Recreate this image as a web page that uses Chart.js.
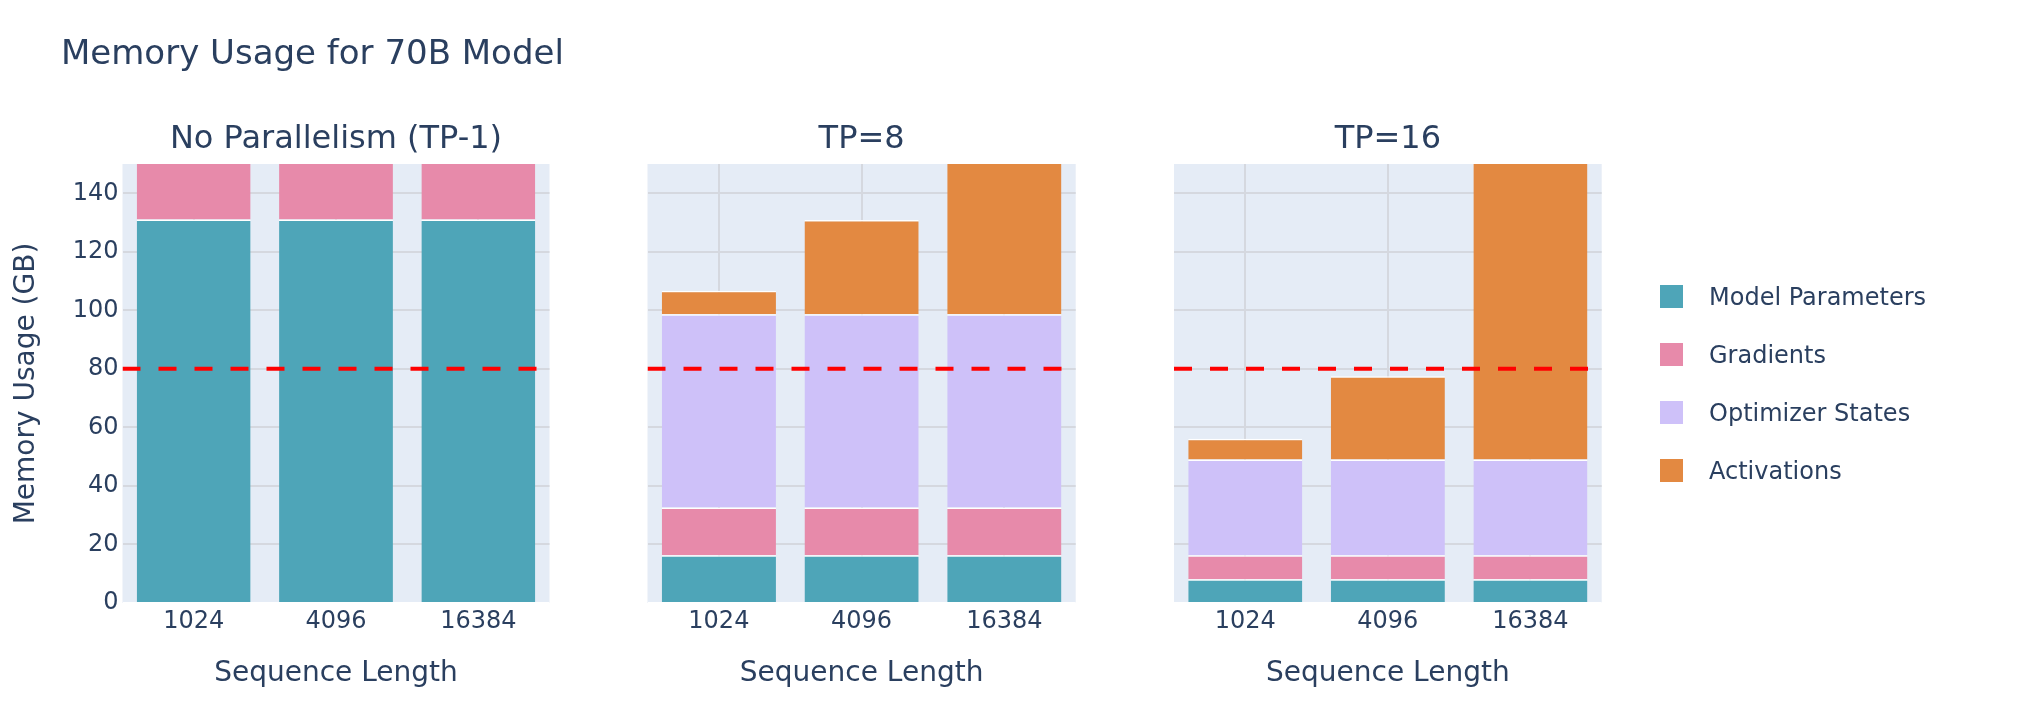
<!DOCTYPE html>
<html>
<head>
<meta charset="utf-8">
<script src="https://cdn.jsdelivr.net/npm/chart.js@4.4.1/dist/chart.umd.min.js"></script>
<style>
html,body{margin:0;padding:0;background:#fff;width:2030px;height:722px;overflow:hidden;}
#wrap{position:relative;width:2030px;height:722px;}
canvas{position:absolute;left:0;top:0;}
#mainTitle{position:absolute;left:61px;top:35px;font:34px/34px 'DejaVu Sans',Verdana,sans-serif;color:#2a3f5f;white-space:nowrap;}
#legend{position:absolute;left:1660px;top:284.7px;font:24px/24px 'DejaVu Sans',Verdana,sans-serif;color:#2a3f5f;}
.item{display:flex;align-items:center;height:24px;margin-bottom:34px;white-space:nowrap;}
.sw{width:23px;height:23px;margin-right:26px;flex:none;}
</style>
</head>
<body>
<div id="wrap">
  <canvas id="c1" width="2030" height="722"></canvas>
  <canvas id="c2" width="2030" height="722"></canvas>
  <canvas id="c3" width="2030" height="722"></canvas>
  <div id="mainTitle">Memory Usage for 70B Model</div>
  <div id="legend"></div>
</div>
<script>
// ---------- data ----------
const chartTitle = 'Memory Usage for 70B Model';
const categories = ['1024', '4096', '16384'];
const seriesNames = ['Model Parameters', 'Gradients', 'Optimizer States', 'Activations'];
const seriesColors = ['#4EA5B8', '#E78AAA', '#CEC1F9', '#E38941'];
const panelTitles = ['No Parallelism (TP-1)', 'TP=8', 'TP=16'];
const xAxisTitle = 'Sequence Length';
const yAxisTitle = 'Memory Usage (GB)';
const yTicks = [0, 20, 40, 60, 80, 100, 120, 140];
const yMax = 150;
const gpuLimit = 80;

// TP-1 (no parallelism)
const tp1Params = [131, 131, 131];
const tp1Grads = [131, 131, 131];
const tp1Optim = [524, 524, 524];
const tp1Activ = [14, 56, 224];
// TP=8
const tp8Params = [16.3, 16.3, 16.3];
const tp8Grads = [16.3, 16.3, 16.3];
const tp8Optim = [66.1, 66.1, 66.1];
const tp8Activ = [8.0, 32.2, 128.8];
// TP=16
const tp16Params = [8.15, 8.15, 8.15];
const tp16Grads = [8.15, 8.15, 8.15];
const tp16Optim = [32.7, 32.7, 32.7];
const tp16Activ = [7.1, 28.5, 114];

// ---------- style / layout ----------
const TEXT = '#2a3f5f';
const GRID = '#d5d8df';
const PLOT_BG = '#E5ECF6';
const FONT = "'DejaVu Sans', Verdana, sans-serif";
const W = 2030, H = 722;
const PLOT_BOTTOM = 603;
const XAXIS_H = 100;
const YAXIS_W = 122.5;

Chart.defaults.font.family = FONT;
Chart.defaults.color = TEXT;

const panels = [
  { id: 'c1', title: panelTitles[0], series: [tp1Params, tp1Grads, tp1Optim, tp1Activ], left: 122.5, right: 549.5, showY: true },
  { id: 'c2', title: panelTitles[1], series: [tp8Params, tp8Grads, tp8Optim, tp8Activ], left: 647.5, right: 1075.7, showY: false },
  { id: 'c3', title: panelTitles[2], series: [tp16Params, tp16Grads, tp16Optim, tp16Activ], left: 1174, right: 1601.7, showY: false }
];

const plotBg = {
  id: 'plotBg',
  beforeDraw(chart) {
    const a = chart.chartArea, c = chart.ctx;
    c.save();
    c.fillStyle = PLOT_BG;
    c.fillRect(a.left, a.top, a.right - a.left, a.bottom - a.top);
    c.restore();
  }
};

// horizontal dashed GPU-memory limit, placed through the y scale
const limitLine = {
  id: 'limitLine',
  afterDatasetsDraw(chart, args, opts) {
    const a = chart.chartArea, c = chart.ctx;
    const y = chart.scales.y.getPixelForValue(opts.value);
    c.save();
    c.beginPath();
    c.rect(a.left, a.top, a.right - a.left, a.bottom - a.top);
    c.clip();
    c.strokeStyle = opts.color;
    c.lineWidth = opts.width;
    c.setLineDash(opts.dash);
    c.beginPath();
    c.moveTo(a.left, y);
    c.lineTo(a.right, y);
    c.stroke();
    c.restore();
  }
};

function build(p) {
  const datasets = seriesNames.map((name, i) => ({
    type: 'bar',
    label: name,
    data: p.series[i],
    backgroundColor: seriesColors[i],
    borderColor: '#ffffff',
    borderWidth: { top: 1.5, left: 0, right: 0, bottom: 0 },
    borderSkipped: 'start',
    barPercentage: 0.8,
    categoryPercentage: 1.0,
    stack: 'mem'
  }));

  return new Chart(document.getElementById(p.id), {
    type: 'bar',
    data: { labels: categories, datasets },
    plugins: [plotBg, limitLine],
    options: {
      responsive: false,
      animation: false,
      devicePixelRatio: 1,
      events: [],
      layout: {
        padding: {
          left: p.showY ? p.left - YAXIS_W : p.left,
          right: W - p.right,
          top: 120.8,
          bottom: H - PLOT_BOTTOM - XAXIS_H
        }
      },
      plugins: {
        legend: { display: false },
        tooltip: { enabled: false },
        limitLine: { value: gpuLimit, color: '#ff0000', width: 4, dash: [18, 18] },
        title: {
          display: true,
          text: p.title,
          fullSize: false,
          color: TEXT,
          font: { size: 32, weight: 'normal', lineHeight: 1.2 },
          padding: { top: 0, bottom: 4.8 }
        }
      },
      scales: {
        x: {
          type: 'category',
          position: 'bottom',
          stacked: true,
          offset: true,
          grid: { offset: false, color: GRID, lineWidth: 2, drawTicks: false },
          border: { display: false },
          ticks: { padding: 4, color: TEXT, font: { size: 24 }, maxRotation: 0, autoSkip: false },
          title: { display: true, text: xAxisTitle, color: TEXT, font: { size: 28, lineHeight: 1.2 }, padding: { top: 0, bottom: 12.2 } },
          afterFit: s => { s.height = XAXIS_H; }
        },
        y: {
          type: 'linear',
          position: 'left',
          stacked: true,
          min: 0,
          max: yMax,
          afterBuildTicks: s => { s.ticks = yTicks.map(v => ({ value: v })); },
          grid: {
            color: c => (c.tick && c.tick.value === 0) ? '#ffffff' : GRID,
            lineWidth: 2,
            drawTicks: false
          },
          border: { display: false },
          ticks: { display: p.showY, padding: 4, color: TEXT, font: { size: 24 } },
          title: { display: p.showY, text: yAxisTitle, color: TEXT, font: { size: 28, lineHeight: 1.2 }, padding: { top: 10, bottom: 0 } },
          afterFit: s => { s.width = p.showY ? YAXIS_W : 0; }
        }
      }
    }
  });
}

const charts = panels.map(build);

// HTML legend built from the chart's own datasets
const legendEl = document.getElementById('legend');
charts[2].data.datasets.forEach(d => {
  const item = document.createElement('div');
  item.className = 'item';
  const sw = document.createElement('span');
  sw.className = 'sw';
  sw.style.background = d.backgroundColor;
  const tx = document.createElement('span');
  tx.textContent = d.label;
  item.appendChild(sw);
  item.appendChild(tx);
  legendEl.appendChild(item);
});
</script>
</body>
</html>
